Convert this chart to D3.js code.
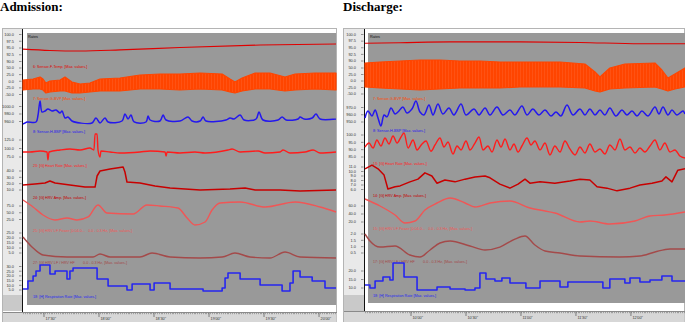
<!DOCTYPE html>
<html><head><meta charset="utf-8">
<script src="https://cdn.jsdelivr.net/npm/d3@7/dist/d3.min.js"></script>
<style>html,body{margin:0;padding:0;background:#fff;}svg{display:block;font-family:"Liberation Sans",Arial,sans-serif;}</style>
</head><body>
<svg id="chart" width="685" height="322"></svg>
<script>
// ================= DATA =================
const admTimeLabels = ["17'30\"","18'00\"","18'30\"","19'00\"","19'30\"","20'00\""];
const admTimeTicks = [30,60,90,120,150,180];   // minutes after 17:00
const admStart = 18.55;                         // record start, minutes after 17:00
const admLength = 170.7;                        // minutes shown
const disTimeLabels = ["10'00\"","10'30\"","11'00\"","11'30\"","12'00\""];
const disTimeTicks = [60,90,120,150,180];       // minutes after 9:00
const disStart = 34.9;
const disLength = 174.6;

const admTicks = [[100,97.5,95,92.5,90],[50,25,0,-25,-50],[1000,980,960],[125,100,75],[40,30,20,10],[75,50,25],[25,20,15,10,5],[30,25,20,15,10,5]];
const disTicks = [[100,97.5,95,92.5,90],[50,25,0,-25,-50],[970,960,950],[100,95,90,85],[11,10,9,8,7,6],[60,40,20],[2,1.5,1,0.5],[20,15,10]];

const admLabels = ["6: Sensor-F-Temp. [Max. values.]","7: Sensor-G-BVP [Max. values.]","8: Sensor-H-BSP [Max. values.]","23: [G] Heart Rate [Max. values.]","24: [G] HRV Amp. [Max. values.]","25: [G] HRV LF Power [0.04-0...   0.0 - 0.3 Hz, [Max. values.]","27: [G] HRV LF / HRV HF        0.0 - 0.3 Hz, [Max. values.]","18: [H] Respiration Rate [Max. values.]"];
const disLabels = ["6: Sensor-F-Temp. [Max. values.]","7: Sensor-G-BVP [Max. values.]","8: Sensor-H-BSP [Max. values.]","13: [G] Heart Rate [Max. values.]","14: [G] HRV Amp. [Max. values.]","15: [G] HRV LF Power [0.04-0...   0.0 - 0.3 Hz, [Max. values.]","17: [G] HRV LF / HRV HF        0.0 - 0.3 Hz, [Max. values.]","18: [H] Respiration Rate [Max. values.]"];

// ---- Admission series: [elapsed minutes, value] ----
const admRate = [[0,94.6],[14.7,94.1],[31.1,93.9],[52.9,94.3],[85.6,95.2],[129.3,96.1],[170.7,96.5]];
const admTemp = [[0,4.7,-33],[5.5,8.5,-29.2],[9.3,16,-29.2],[10.9,8.5,-33],[12.5,-6.6,-44.3],[14.7,1,-40.6],[20.2,4.7,-36.8],[22.9,16,-36.8],[26.7,-2.8,-44.3],[31.1,-10.4,-44.3],[36.5,-6.6,-40.6],[42,8.5,-36.8],[52.9,12.3,-36.8],[63.8,23.6,-29.2],[74.7,27.4,-29.2],[85.6,27.4,-33],[96.6,31.1,-29.2],[108.6,27.4,-33],[112.9,8.5,-40.6],[115.6,-2.8,-44.3],[119.5,12.3,-36.8],[126.6,31.1,-29.2],[134.7,31.1,-29.2],[142.9,16,-36.8],[148.4,27.4,-33],[159.3,31.1,-29.2],[170.7,31.1,-33]];
const admBvp = [[0,953.3],[1.1,956],[2.2,958.7],[7.1,958.7],[8.2,977.3],[9.3,1014.7],[10.4,985.3],[12,988],[13.6,993.3],[15.8,988],[18,990.7],[20.2,982.7],[21.3,988],[22.9,969.3],[24.5,972],[26.7,961.3],[31.1,956],[37.6,956],[39.8,969.3],[42,956],[44.7,969.3],[46.4,958.7],[54,961.3],[55.6,980],[57.3,966.7],[58.9,977.3],[60.6,958.7],[67.1,958.7],[68.2,974.7],[69.3,964],[74.7,961.3],[76.4,977.3],[78,964],[85.6,961.3],[90,972],[92.2,961.3],[96.6,961.3],[98.2,972],[99.8,961.3],[110.7,964],[112.9,969.3],[115.1,966.7],[118.4,977.3],[120.6,964],[127.1,966.7],[128.7,985.3],[130.9,964],[139.1,964],[141.3,972],[143.5,964],[150,966.7],[151.1,972],[153.3,966.7],[157.7,969.3],[159.8,980],[162,966.7],[170.7,966.7]];
const admHr = [[0,89.7],[3.8,89.7],[9.3,92.6],[13.1,89.7],[13.6,66.2],[14.2,89.7],[20.2,95.6],[25.6,98.5],[31.1,95.6],[36.5,101.5],[38.7,95.6],[39.3,142.6],[40.4,142.6],[40.9,95.6],[42,75],[42.5,92.6],[47.5,89.7],[52.9,86.8],[63.8,89.7],[69.3,92.6],[77.5,89.7],[78,77.9],[78.6,89.7],[85.6,86.8],[93.8,89.7],[99.3,86.8],[111.8,95.6],[114,98.5],[118.4,89.7],[128.2,92.6],[132,86.8],[140.2,89.7],[141.8,95.6],[145.6,86.8],[153.8,89.7],[158.2,95.6],[162,86.8],[170.7,89.7]];
const admAmp = [[0,17.9],[6.5,19.5],[12,21],[14.7,24.2],[17.5,21],[25.6,17.9],[33.8,14.7],[39.3,14.7],[40.4,32.1],[42,40],[47.5,43.2],[54.6,46.3],[55.6,38.4],[56.7,22.6],[63.8,21],[72,16.3],[80.2,13.2],[88.4,11.6],[96.6,10],[112.9,11.6],[121.1,13.2],[126.6,10],[140.2,10],[151.1,8.4],[170.7,10]];
const admLf = [[0,97.2],[5.5,71.3],[10.9,41.7],[17.5,23.2],[24,30.6],[29.5,23.2],[35.5,34.3],[40.9,78.7],[45.8,49],[60,45.4],[67.6,78.7],[74.7,75],[84.5,67.6],[89.5,30.6],[93.8,4.7],[99.3,15.8],[103.1,60.2],[107.5,86],[118.4,89.8],[132,71.3],[148.4,89.8],[162,71.3],[170.7,52.8]];
const admRatio = [[0,21],[4.9,11],[10.9,3],[24,1],[38.2,1],[42,4],[47.5,1],[63.8,1],[70.4,5],[80.2,1],[96.6,0],[108.6,1],[115.6,5],[123.8,1],[134.7,0],[142.9,6],[151.1,1],[170.7,0]];
const admResp = [[0,6.1],[2.7,14.6],[5.5,19.9],[7.1,25.2],[9.3,31.6],[14.7,22],[17.5,25.2],[24,16.7],[25.6,25.2],[27.3,28.4],[40.4,16.7],[46.4,9.3],[56.7,5],[59.5,11.4],[69.3,5],[71.5,12.4],[80.2,6.1],[98.2,3.9],[108.6,7.1],[110.2,17.8],[111.8,23.1],[118.4,16.7],[129.3,10.3],[141.3,3.9],[145.6,12.4],[147.3,25.2],[151.1,18.8],[157.7,14.6],[164.7,7.1],[170.7,7.1]];

// ---- Discharge series ----
const disRate = [[0,96.7],[19.1,96.9],[46.4,97.2],[84.6,97.2],[117.3,97],[150,96.5],[174.6,96.5]];
const disTemp = [[0,69.2,-23],[8.2,73,-26.9],[19.1,76.9,-30.8],[30,80.8,-34.6],[40.9,80.8,-30.8],[51.8,76.9,-26.9],[62.7,76.9,-26.9],[73.6,73,-26.9],[84.6,73,-23],[106.4,73,-23],[120,65.4,-26.9],[125.5,34.6,-38.5],[128.2,15.4,-42.3],[133.6,50,-30.8],[141.8,65.4,-26.9],[158.2,69.2,-23],[162,42.3,-30.8],[165.3,11.5,-38.5],[169.1,26.9,-30.8],[174.6,50,-23]];
const disBvp = [[0,955.5],[1.6,965.2],[3.8,958.3],[5.5,966.5],[7.1,955.5],[8.7,944.5],[10.4,959.7],[12,957.1],[14.2,969.3],[16.4,961],[18,963.8],[20.7,970.7],[22.9,962.4],[25.6,967.9],[27.8,979],[30,963.8],[32.2,959.7],[34.9,973.4],[37.1,959.7],[39.8,974.8],[42.5,961],[45.8,969.3],[48.5,959.7],[52.4,974.8],[55.1,959.7],[59.5,967.9],[62.2,959.7],[65.5,969.3],[68.2,959.7],[72,970.7],[75.3,959.7],[79.1,966.5],[81.8,959.7],[85.6,972],[88.4,959.7],[91.6,967.9],[94.9,959.7],[98.2,966.5],[101.5,958.3],[104.2,963.8],[106.9,958.3],[110.2,973.4],[113.5,959.7],[117.3,967.9],[120,959.7],[122.7,967.9],[125.5,959.7],[128.2,966.5],[130.9,959.7],[133.6,969.3],[136.9,958.3],[140.2,966.5],[142.9,959.7],[145.7,965.2],[148.4,958.3],[151.1,965.2],[154.4,958.3],[158.2,970.7],[160.4,961],[162.6,970.7],[165.3,959.7],[167.5,966.5],[170.2,959.7],[173.5,965.2],[174.6,961]];
const disHr = [[0,91.8],[2.2,94.5],[4.4,91.1],[6.5,96.6],[8.7,92.5],[10.9,98],[13.1,93.9],[15.3,99.3],[17.5,94.5],[19.6,98.6],[21.3,101.4],[23.5,91.1],[26.2,96.6],[28.4,89.8],[31.1,93.9],[33.3,95.9],[36,88.9],[38.2,93.2],[40.9,98],[43.1,91.8],[45.3,95.2],[48,87],[50.2,92.5],[52.4,89.8],[55.1,95.9],[57.3,89.8],[60,94.5],[62.2,98.6],[64.4,89.8],[67.1,92.5],[69.3,88.4],[72,96.6],[74.2,91.8],[76.4,97.3],[79.1,89.8],[81.3,93.9],[83.5,88.4],[85.6,92.5],[88.4,98],[90.6,93.2],[92.7,95.9],[95.5,89.8],[98.2,94.5],[100.9,86.4],[103.6,92.5],[106.4,88.4],[109.1,95.9],[111.8,90.5],[114.6,86.4],[117.3,91.8],[120,87.7],[122.7,93.9],[125.5,88.4],[128.2,90.5],[130.9,87],[133.6,93.2],[136.4,89.8],[139.1,97.3],[141.8,89.8],[144.6,91.8],[147.3,87.7],[150,91.1],[152.7,88.4],[155.5,92.5],[158.2,96.6],[160.9,89.8],[163.6,94.5],[166.4,88.4],[169.1,89.8],[171.8,85.7],[174.6,84.3]];
const disAmp = [[0,10.6],[3.8,11.4],[7.1,10.6],[10.4,9.2],[12.5,6.1],[16.4,6.6],[19.1,6.8],[24.5,7.7],[28.9,8.3],[32.7,9.7],[36.5,9],[39.3,7.4],[43.6,8.1],[49.1,7.7],[54.6,8.3],[60,8.8],[65.5,9],[68.2,8.6],[73.6,7.2],[79.1,6.3],[83.5,7.2],[87.3,8.3],[90,7.4],[95.5,7.7],[103.6,7.4],[111.8,7.9],[117.3,8.3],[122.7,8.1],[126.6,6.6],[132,6.3],[137.5,5.7],[144.6,6.3],[150,7],[156.6,7.4],[162,7.9],[164.2,8.8],[167.5,7.7],[170.7,10.3],[174.6,10.6]];
const disLf = [[0,77.5],[8.2,60],[16.4,37.5],[21.8,17.5],[27.3,22.5],[32.7,50],[39.3,67.5],[46.4,80],[54.6,67.5],[60,57.5],[68.2,67.5],[79.1,72.5],[90,55],[98.2,47.5],[103.6,42.5],[117.3,20],[122.7,22.5],[133.6,15],[147.3,22.5],[155.5,35],[163.6,37.5],[174.6,45]];
const disRatio = [[0,2.0],[2.7,1.45],[8.2,0.97],[16.4,1.05],[24.5,0.34],[30,0.18],[35.5,0.74],[40.9,1.29],[46.4,1.45],[57.3,1.05],[65.5,0.74],[73.6,0.97],[81.8,1.6],[87.3,1.84],[92.7,1.13],[98.2,0.66],[106.4,0.5],[117.3,0.26],[139.1,0.18],[150,0.26],[158.2,0.58],[166.4,0.82],[174.6,0.82]];
const disResp = [[0,11.8],[2.7,10],[5.5,14.1],[9.8,16.5],[13.6,14.7],[15.3,24.7],[21.3,16.5],[28.4,8.8],[39.3,10.6],[46.4,9.4],[54.6,8.8],[60,10],[62.7,18.8],[66,15.3],[70.9,14.1],[74.7,15.9],[79.1,12.9],[87.8,10],[95.5,14.1],[106.4,10.6],[110.7,13.5],[129.8,10],[133.6,15.3],[141.8,12.9],[144.6,15.9],[150,13.5],[155.5,14.7],[162,17.1],[167.5,14.1],[174.6,14.1]];

// ================= LAYOUT / STYLE =================
const styles = [
  {kind:"line", color:"#e00000", w:1.1, curve:d3.curveMonotoneX},
  {kind:"band", color:"#ff4500"},
  {kind:"line", color:"#2418ee", w:1.5, curve:d3.curveCatmullRom},
  {kind:"line", color:"#ff1c1c", w:1.4, curve:d3.curveMonotoneX},
  {kind:"line", color:"#c80000", w:1.5, curve:d3.curveLinear},
  {kind:"line", color:"#f05656", w:1.4, curve:d3.curveMonotoneX},
  {kind:"line", color:"#a44a4a", w:1.4, curve:d3.curveMonotoneX},
  {kind:"step", color:"#2626f0", w:1.6, curve:d3.curveStepAfter}
];

const panels = [
  {title:"Admission:", titleX:0, fx:2, fr:337, axisLine:22.5, plotL:27, plotR:336, plotB:305, barT:312,
   traceL:23, traceR:336, tickLabX:14, tickX0:19, labX:33, ratesX:28,
   rows:[[34.5,61.5],[68,94.5],[106.5,121.5],[140,157],[171,190],[206,219.5],[233,253],[266.5,290]],
   labY:[67.5,100,133,166.5,199,231.5,264,297.5],
   ticks:admTicks, labels:admLabels, start:admStart, length:admLength, tLabels:admTimeLabels, tTicks:admTimeTicks,
   series:[admRate,admTemp,admBvp,admHr,admAmp,admLf,admRatio,admResp]},
  {title:"Discharge:", titleX:343, fx:343, fr:685, axisLine:364.5, plotL:368, plotR:685, plotB:303, barT:311,
   traceL:365, traceR:685, tickLabX:356, tickX0:361, labX:373, ratesX:370,
   rows:[[34.5,61],[68,94],[107.5,122],[135,157],[167,189.5],[206,222],[234,253],[271,288]],
   labY:[66.5,99.5,132,164.5,197,230,263,296.5],
   ticks:disTicks, labels:disLabels, start:disStart, length:disLength, tLabels:disTimeLabels, tTicks:disTimeTicks,
   series:[disRate,disTemp,disBvp,disHr,disAmp,disLf,disRatio,disResp]}
];

const svg = d3.select("#chart");
const defs = svg.append("defs");
const pat = defs.append("pattern").attr("id","streak").attr("patternUnits","userSpaceOnUse")
  .attr("width",3).attr("height",20);
pat.append("rect").attr("width",3).attr("height",20).attr("fill","#ff4500");
pat.append("line").attr("x1",1.5).attr("x2",1.5).attr("y1",0).attr("y2",20)
  .attr("stroke","#ff6630").attr("stroke-width",0.4);

panels.forEach((p,pi) => {
  const g = svg.append("g");
  g.append("text").attr("x",p.titleX).attr("y",10.5).text(p.title)
    .attr("font-family","'Liberation Serif','Times New Roman',serif").attr("font-weight","bold")
    .attr("font-size",13).attr("fill","#000");
  g.append("rect").attr("x",p.fx+0.5).attr("y",28.5).attr("width",p.fr-p.fx-1).attr("height",294)
    .attr("fill","#fff").attr("stroke","#b4b4b4").attr("stroke-width",1);
  g.append("rect").attr("x",p.fx+1).attr("y",29).attr("width",p.axisLine-p.fx-1.5).attr("height",266)
    .attr("fill","#e9e9e9");
  g.append("rect").attr("x",p.fx+1).attr("y",295).attr("width",p.axisLine-p.fx-1.5).attr("height",16)
    .attr("fill","#c9c9c9");
  g.append("rect").attr("x",p.plotL).attr("y",33).attr("width",p.plotR-p.plotL).attr("height",p.plotB-33)
    .attr("fill","#999999");
  g.append("line").attr("x1",p.axisLine).attr("x2",p.axisLine).attr("y1",29).attr("y2",p.barT)
    .attr("stroke","#111").attr("stroke-width",1);

  const x = d3.scaleLinear().domain([0,p.length]).range([p.traceL,p.traceR]);
  g.append("rect").attr("x",p.fx+1).attr("y",p.barT).attr("width",p.fr-p.fx-1.5).attr("height",322-p.barT)
    .attr("fill","#d7d7d7");
  g.append("line").attr("x1",p.fx+1).attr("x2",p.fr).attr("y1",p.barT+0.5).attr("y2",p.barT+0.5)
    .attr("stroke","#8a8a8a").attr("stroke-width",1);
  const minors = d3.range(0,p.length,1);
  g.selectAll(null).data(minors).enter().append("line")
    .attr("x1",d=>Math.round(x(d))+0.5).attr("x2",d=>Math.round(x(d))+0.5)
    .attr("y1",p.barT+1).attr("y2",p.barT+2.2).attr("stroke","#777").attr("stroke-width",0.6);
  p.tTicks.forEach((t,i) => {
    const xx = x(t - p.start);
    g.append("line").attr("x1",xx).attr("x2",xx).attr("y1",p.barT+1).attr("y2",p.barT+5)
      .attr("stroke","#555").attr("stroke-width",0.7);
    g.append("text").attr("x",xx+1.5).attr("y",p.barT+7.5).text(p.tLabels[i])
      .attr("font-size",3.8).attr("fill","#333");
  });

  g.append("text").attr("x",p.ratesX).attr("y",38).text("Rates").attr("font-size",3.8).attr("fill","#111");

  p.series.forEach((data,si) => {
    const st = styles[si];
    const tk = p.ticks[si];
    const y = d3.scaleLinear().domain([d3.min(tk),d3.max(tk)]).range([p.rows[si][1],p.rows[si][0]]);
    tk.forEach(v => {
      g.append("text").attr("x",p.tickLabX).attr("y",y(v)+1.3).attr("text-anchor","end")
        .text(v.toFixed(1)).attr("font-size",3.9).attr("fill","#333");
      g.append("line").attr("x1",p.tickX0).attr("x2",p.tickX0+2.5).attr("y1",y(v)).attr("y2",y(v))
        .attr("stroke","#555").attr("stroke-width",0.6);
    });
    g.append("text").attr("x",p.labX).attr("y",p.labY[si])
      .text(p.labels[si]).attr("font-size",3.7)
      .attr("fill", st.color).style("white-space","pre");
    if (st.kind === "band") {
      const area = d3.area().x(d=>x(d[0])).y0(d=>y(d[2])).y1(d=>y(d[1])).curve(d3.curveLinear);
      g.append("path").datum(data).attr("d",area).attr("fill","url(#streak)")
        .attr("stroke","#ff4500").attr("stroke-width",1.2).attr("stroke-linejoin","round");
    } else {
      const line = d3.line().x(d=>x(d[0])).y(d=>y(d[1])).curve(st.curve);
      g.append("path").datum(data).attr("d",line).attr("fill","none")
        .attr("stroke",st.color).attr("stroke-width",st.w).attr("stroke-linejoin","round");
    }
  });
});
</script>
</body></html>
